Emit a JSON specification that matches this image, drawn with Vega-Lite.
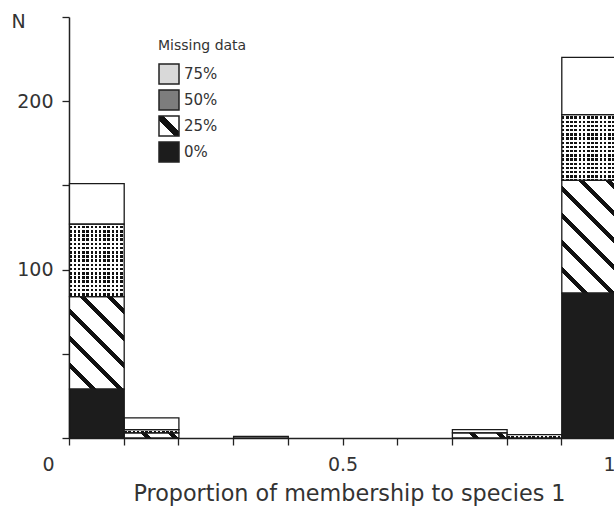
{
  "$schema": "https://vega.github.io/schema/vega-lite/v6.json",
  "autosize": {"type": "none"},
  "padding": {"left": 69, "top": 17, "right": 0, "bottom": 71},
  "width": 547,
  "height": 421,
  "background": "white",
  "config": {"view": {"stroke": null}, "font": "DejaVu Sans"},
  "params": [
    {"name": "legendStripe", "value": {"gradient": "linear", "x1": 0, "y1": 1, "x2": 1, "y2": 0.0001, "stops": [
      {"offset": 0, "color": "#fff"}, {"offset": 0.38, "color": "#fff"}, {"offset": 0.38, "color": "#111"},
      {"offset": 0.62, "color": "#111"}, {"offset": 0.62, "color": "#fff"}, {"offset": 1, "color": "#fff"}
    ]}},
    {"name": "stripeStops", "value": [
      {"offset": 0, "color": "#fff"}, {"offset": 0.0972, "color": "#fff"}, {"offset": 0.0972, "color": "#111"}, {"offset": 0.125, "color": "#111"},
      {"offset": 0.125, "color": "#fff"}, {"offset": 0.2222, "color": "#fff"}, {"offset": 0.2222, "color": "#111"}, {"offset": 0.25, "color": "#111"},
      {"offset": 0.25, "color": "#fff"}, {"offset": 0.3472, "color": "#fff"}, {"offset": 0.3472, "color": "#111"}, {"offset": 0.375, "color": "#111"},
      {"offset": 0.375, "color": "#fff"}, {"offset": 0.4722, "color": "#fff"}, {"offset": 0.4722, "color": "#111"}, {"offset": 0.5, "color": "#111"},
      {"offset": 0.5, "color": "#fff"}, {"offset": 0.5972, "color": "#fff"}, {"offset": 0.5972, "color": "#111"}, {"offset": 0.625, "color": "#111"},
      {"offset": 0.625, "color": "#fff"}, {"offset": 0.7222, "color": "#fff"}, {"offset": 0.7222, "color": "#111"}, {"offset": 0.75, "color": "#111"},
      {"offset": 0.75, "color": "#fff"}, {"offset": 0.8472, "color": "#fff"}, {"offset": 0.8472, "color": "#111"}, {"offset": 0.875, "color": "#111"},
      {"offset": 0.875, "color": "#fff"}, {"offset": 0.9722, "color": "#fff"}, {"offset": 0.9722, "color": "#111"}, {"offset": 1, "color": "#111"}
    ]},
    {"name": "vStops", "value": [
      {"offset": 0, "color": "#111"}, {"offset": 0.0462, "color": "#111"}, {"offset": 0.0462, "color": "#fff"}, {"offset": 0.0769, "color": "#fff"},
      {"offset": 0.0769, "color": "#111"}, {"offset": 0.1231, "color": "#111"}, {"offset": 0.1231, "color": "#fff"}, {"offset": 0.1538, "color": "#fff"},
      {"offset": 0.1538, "color": "#111"}, {"offset": 0.2, "color": "#111"}, {"offset": 0.2, "color": "#fff"}, {"offset": 0.2308, "color": "#fff"},
      {"offset": 0.2308, "color": "#111"}, {"offset": 0.2769, "color": "#111"}, {"offset": 0.2769, "color": "#fff"}, {"offset": 0.3077, "color": "#fff"},
      {"offset": 0.3077, "color": "#111"}, {"offset": 0.3538, "color": "#111"}, {"offset": 0.3538, "color": "#fff"}, {"offset": 0.3846, "color": "#fff"},
      {"offset": 0.3846, "color": "#111"}, {"offset": 0.4308, "color": "#111"}, {"offset": 0.4308, "color": "#fff"}, {"offset": 0.4615, "color": "#fff"},
      {"offset": 0.4615, "color": "#111"}, {"offset": 0.5077, "color": "#111"}, {"offset": 0.5077, "color": "#fff"}, {"offset": 0.5385, "color": "#fff"},
      {"offset": 0.5385, "color": "#111"}, {"offset": 0.5846, "color": "#111"}, {"offset": 0.5846, "color": "#fff"}, {"offset": 0.6154, "color": "#fff"},
      {"offset": 0.6154, "color": "#111"}, {"offset": 0.6615, "color": "#111"}, {"offset": 0.6615, "color": "#fff"}, {"offset": 0.6923, "color": "#fff"},
      {"offset": 0.6923, "color": "#111"}, {"offset": 0.7385, "color": "#111"}, {"offset": 0.7385, "color": "#fff"}, {"offset": 0.7692, "color": "#fff"},
      {"offset": 0.7692, "color": "#111"}, {"offset": 0.8154, "color": "#111"}, {"offset": 0.8154, "color": "#fff"}, {"offset": 0.8462, "color": "#fff"},
      {"offset": 0.8462, "color": "#111"}, {"offset": 0.8923, "color": "#111"}, {"offset": 0.8923, "color": "#fff"}, {"offset": 0.9231, "color": "#fff"},
      {"offset": 0.9231, "color": "#111"}, {"offset": 0.9692, "color": "#111"}, {"offset": 0.9692, "color": "#fff"}, {"offset": 1, "color": "#fff"}
    ]},
    {"name": "hStops", "value": [
      {"offset": 0, "color": "#fff"}, {"offset": 0.02, "color": "#fff"}, {"offset": 0.02, "color": "rgba(255,255,255,0)"}, {"offset": 0.05, "color": "rgba(255,255,255,0)"},
      {"offset": 0.05, "color": "#fff"}, {"offset": 0.07, "color": "#fff"}, {"offset": 0.07, "color": "rgba(255,255,255,0)"}, {"offset": 0.1, "color": "rgba(255,255,255,0)"},
      {"offset": 0.1, "color": "#fff"}, {"offset": 0.12, "color": "#fff"}, {"offset": 0.12, "color": "rgba(255,255,255,0)"}, {"offset": 0.15, "color": "rgba(255,255,255,0)"},
      {"offset": 0.15, "color": "#fff"}, {"offset": 0.17, "color": "#fff"}, {"offset": 0.17, "color": "rgba(255,255,255,0)"}, {"offset": 0.2, "color": "rgba(255,255,255,0)"},
      {"offset": 0.2, "color": "#fff"}, {"offset": 0.22, "color": "#fff"}, {"offset": 0.22, "color": "rgba(255,255,255,0)"}, {"offset": 0.25, "color": "rgba(255,255,255,0)"},
      {"offset": 0.25, "color": "#fff"}, {"offset": 0.27, "color": "#fff"}, {"offset": 0.27, "color": "rgba(255,255,255,0)"}, {"offset": 0.3, "color": "rgba(255,255,255,0)"},
      {"offset": 0.3, "color": "#fff"}, {"offset": 0.32, "color": "#fff"}, {"offset": 0.32, "color": "rgba(255,255,255,0)"}, {"offset": 0.35, "color": "rgba(255,255,255,0)"},
      {"offset": 0.35, "color": "#fff"}, {"offset": 0.37, "color": "#fff"}, {"offset": 0.37, "color": "rgba(255,255,255,0)"}, {"offset": 0.4, "color": "rgba(255,255,255,0)"},
      {"offset": 0.4, "color": "#fff"}, {"offset": 0.42, "color": "#fff"}, {"offset": 0.42, "color": "rgba(255,255,255,0)"}, {"offset": 0.45, "color": "rgba(255,255,255,0)"},
      {"offset": 0.45, "color": "#fff"}, {"offset": 0.47, "color": "#fff"}, {"offset": 0.47, "color": "rgba(255,255,255,0)"}, {"offset": 0.5, "color": "rgba(255,255,255,0)"},
      {"offset": 0.5, "color": "#fff"}, {"offset": 0.52, "color": "#fff"}, {"offset": 0.52, "color": "rgba(255,255,255,0)"}, {"offset": 0.55, "color": "rgba(255,255,255,0)"},
      {"offset": 0.55, "color": "#fff"}, {"offset": 0.57, "color": "#fff"}, {"offset": 0.57, "color": "rgba(255,255,255,0)"}, {"offset": 0.6, "color": "rgba(255,255,255,0)"},
      {"offset": 0.6, "color": "#fff"}, {"offset": 0.62, "color": "#fff"}, {"offset": 0.62, "color": "rgba(255,255,255,0)"}, {"offset": 0.65, "color": "rgba(255,255,255,0)"},
      {"offset": 0.65, "color": "#fff"}, {"offset": 0.67, "color": "#fff"}, {"offset": 0.67, "color": "rgba(255,255,255,0)"}, {"offset": 0.7, "color": "rgba(255,255,255,0)"},
      {"offset": 0.7, "color": "#fff"}, {"offset": 0.72, "color": "#fff"}, {"offset": 0.72, "color": "rgba(255,255,255,0)"}, {"offset": 0.75, "color": "rgba(255,255,255,0)"},
      {"offset": 0.75, "color": "#fff"}, {"offset": 0.77, "color": "#fff"}, {"offset": 0.77, "color": "rgba(255,255,255,0)"}, {"offset": 0.8, "color": "rgba(255,255,255,0)"},
      {"offset": 0.8, "color": "#fff"}, {"offset": 0.82, "color": "#fff"}, {"offset": 0.82, "color": "rgba(255,255,255,0)"}, {"offset": 0.85, "color": "rgba(255,255,255,0)"},
      {"offset": 0.85, "color": "#fff"}, {"offset": 0.87, "color": "#fff"}, {"offset": 0.87, "color": "rgba(255,255,255,0)"}, {"offset": 0.9, "color": "rgba(255,255,255,0)"},
      {"offset": 0.9, "color": "#fff"}, {"offset": 0.92, "color": "#fff"}, {"offset": 0.92, "color": "rgba(255,255,255,0)"}, {"offset": 0.95, "color": "rgba(255,255,255,0)"},
      {"offset": 0.95, "color": "#fff"}, {"offset": 0.97, "color": "#fff"}, {"offset": 0.97, "color": "rgba(255,255,255,0)"}, {"offset": 1, "color": "rgba(255,255,255,0)"}
    ]}
  ],
  "data": {"values": [
    {"x0": 0.0, "x1": 0.1, "missing": "0%", "n": 29},
    {"x0": 0.0, "x1": 0.1, "missing": "25%", "n": 55},
    {"x0": 0.0, "x1": 0.1, "missing": "50%", "n": 43},
    {"x0": 0.0, "x1": 0.1, "missing": "75%", "n": 24},
    {"x0": 0.1, "x1": 0.2, "missing": "25%", "n": 3},
    {"x0": 0.1, "x1": 0.2, "missing": "50%", "n": 2},
    {"x0": 0.1, "x1": 0.2, "missing": "75%", "n": 7},
    {"x0": 0.3, "x1": 0.4, "missing": "75%", "n": 1},
    {"x0": 0.7, "x1": 0.8, "missing": "25%", "n": 3},
    {"x0": 0.7, "x1": 0.8, "missing": "75%", "n": 2},
    {"x0": 0.8, "x1": 0.9, "missing": "50%", "n": 2},
    {"x0": 0.9, "x1": 1.0, "missing": "0%", "n": 86},
    {"x0": 0.9, "x1": 1.0, "missing": "25%", "n": 67},
    {"x0": 0.9, "x1": 1.0, "missing": "50%", "n": 39},
    {"x0": 0.9, "x1": 1.0, "missing": "75%", "n": 34}
  ]},
  "encoding": {
    "x": {
      "field": "x0", "type": "quantitative", "bin": {"binned": true, "step": 0.1},
      "scale": {"domain": [0, 1], "nice": false, "zero": false},
      "axis": {
        "values": [0, 0.1, 0.2, 0.3, 0.4, 0.5, 0.6, 0.7, 0.8, 0.9, 1],
        "labelExpr": "datum.value === 0 ? '0' : datum.value === 0.5 ? '0.5' : datum.value === 1 ? '1' : ''",
        "grid": false, "labelFlush": false, "labelOverlap": false,
        "tickSize": 7, "tickWidth": 1.3, "tickColor": "#222",
        "domainColor": "#222", "domainWidth": 1.5,
        "labelFont": "DejaVu Sans", "labelFontSize": 19, "labelColor": "#333", "labelPadding": 10,
        "labelOffset": {"condition": [{"test": "datum.value === 0", "value": -21}, {"test": "datum.value === 1", "value": -7}], "value": 0},
        "title": "Proportion of membership to species 1",
        "titleFont": "DejaVu Sans", "titleFontSize": 22.3, "titleFontWeight": "normal", "titleColor": "#333",
        "titlePadding": 8, "titleX": 280
      }
    },
    "x2": {"field": "x1"},
    "y": {
      "field": "n", "type": "quantitative", "stack": "zero",
      "scale": {"domain": [0, 250], "nice": false},
      "axis": {
        "values": [0, 50, 100, 150, 200, 250],
        "labelExpr": "datum.value === 100 || datum.value === 200 ? datum.label : ''",
        "grid": false, "labelOverlap": false,
        "tickSize": 7, "tickWidth": 1.3, "tickColor": "#222",
        "domainColor": "#222", "domainWidth": 1.5,
        "labelFont": "DejaVu Sans", "labelFontSize": 19, "labelColor": "#333", "labelPadding": 9,
        "title": "N", "titleAngle": 0, "titleX": -51, "titleY": 4,
        "titleAlign": "center", "titleBaseline": "middle",
        "titleFont": "DejaVu Sans", "titleFontSize": 19, "titleFontWeight": "normal", "titleColor": "#333"
      }
    },
    "order": {"field": "missing", "type": "ordinal"}
  },
  "layer": [
    {
      "mark": {"type": "bar", "opacity": 1, "binSpacing": 0},
      "encoding": {
        "color": {
          "field": "missing", "type": "nominal",
          "scale": {
            "domain": ["75%", "50%", "25%", "0%"],
            "range": ["#d9d9d9", "#7d7d7d", {"expr": "legendStripe"}, "#1c1c1c"]
          },
          "legend": {
            "orient": "none", "legendX": 89, "legendY": 22,
            "title": "Missing data",
            "titleFont": "DejaVu Sans", "titleFontSize": 14, "titleFontWeight": "normal", "titleColor": "#333", "titlePadding": 10,
            "labelFont": "DejaVu Sans", "labelFontSize": 15, "labelColor": "#333", "labelOffset": 4,
            "symbolType": "square", "symbolSize": 400, "symbolStrokeColor": "#222", "symbolStrokeWidth": 1.5,
            "symbolOpacity": 1, "rowPadding": 0
          }
        }
      }
    },
    {
      "mark": {
        "type": "bar", "binSpacing": 0,
        "fill": {"expr": "datum.missing === '25%' ? {gradient: 'linear', x1: 0, y1: 1, x2: 11815.2/(2992.09 + pow(datum.n*1.684, 2)), y2: 1 - 216*datum.n*1.684/(2992.09 + pow(datum.n*1.684, 2)), stops: stripeStops} : datum.missing === '50%' ? {gradient: 'linear', x1: 0, y1: 0, x2: 1, y2: 0.0001, stops: vStops} : datum.missing === '75%' ? '#ffffff' : '#1c1c1c'"}
      },
      "encoding": {"detail": {"field": "missing"}}
    },
    {
      "mark": {
        "type": "bar", "binSpacing": 0,
        "fill": {"expr": "datum.missing === '50%' ? {gradient: 'linear', x1: 0, y1: 0, x2: 0.0001, y2: 84/(datum.n*1.684), stops: hStops} : 'transparent'"},
        "stroke": "#1a1a1a", "strokeWidth": 1.3
      },
      "encoding": {"detail": {"field": "missing"}}
    }
  ]
}
